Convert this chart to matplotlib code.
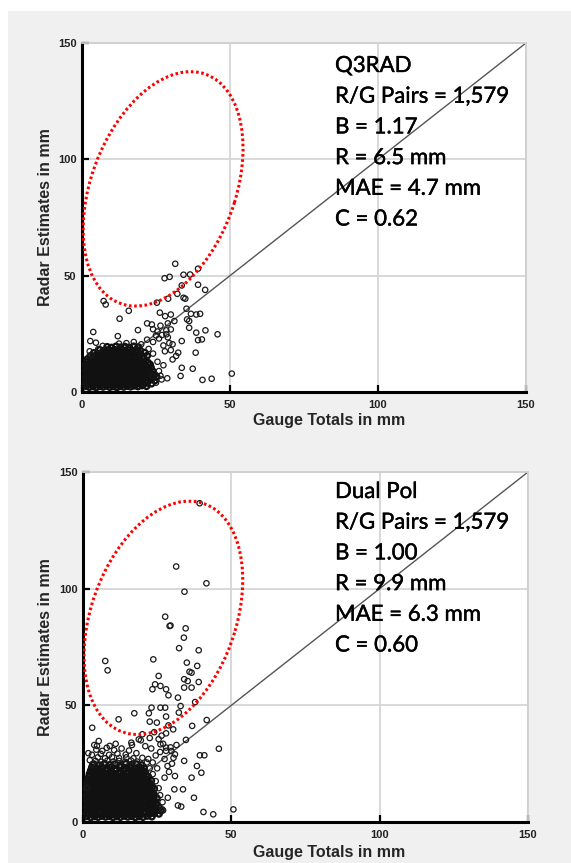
import numpy as np
import matplotlib
matplotlib.use("Agg")
import matplotlib.pyplot as plt
import matplotlib.patheffects as pe
from matplotlib.patches import Ellipse, Rectangle

# ---------------------------------------------------------------
# data (gauge mm, radar mm)
# dense cluster near the origin
q3rad_core = [
    (1.4,2.6),(2.5,2.1),(3.7,2.4),(4.8,2.0),(6.0,2.5),(7.1,2.2),(8.3,2.6),(9.4,2.1),(10.6,2.4),(11.8,2.0),
    (12.9,2.5),(14.1,2.2),(15.3,2.6),(16.4,2.3),(17.6,2.7),(18.9,2.4),(20.3,2.8),(21.8,2.5),
    (1.2,3.8),(2.0,3.3),(3.1,3.7),(4.2,3.4),(5.4,3.9),(6.5,3.5),(7.7,3.8),(8.8,3.3),(10.0,3.7),(11.2,3.4),
    (12.3,3.9),(13.5,3.5),(14.7,3.8),(15.8,3.4),(17.0,3.7),(18.2,3.3),(19.4,3.8),(20.6,3.5),(22.0,3.9),(23.5,3.6),
    (1.5,5.1),(2.7,4.7),(3.8,5.0),(5.0,4.6),(6.1,5.2),(7.3,4.8),(8.4,5.1),(9.6,4.7),(10.8,5.0),(11.9,4.6),
    (13.1,5.2),(14.3,4.8),(15.4,5.1),(16.6,4.7),(17.8,5.0),(19.0,4.6),(20.2,5.1),(21.5,4.8),(23.0,5.2),(24.6,4.9),
    (1.2,6.4),(2.1,6.0),(3.3,6.3),(4.4,5.9),(5.6,6.5),(6.8,6.1),(7.9,6.4),(9.1,6.0),(10.2,6.3),(11.4,5.9),
    (12.6,6.4),(13.7,6.0),(14.9,6.3),(16.1,5.9),(17.2,6.5),(18.4,6.1),(19.6,6.4),(20.9,6.0),(22.3,6.3),(23.8,6.0),(25.2,6.6),
    (1.6,7.7),(2.8,7.3),(3.9,7.6),(5.1,7.2),(6.2,7.8),(7.4,7.4),(8.6,7.7),(9.7,7.3),(10.9,7.6),(12.1,7.2),
    (13.2,7.8),(14.4,7.4),(15.6,7.7),(16.7,7.3),(17.9,7.6),(19.1,7.2),(20.3,7.7),(21.6,7.4),(23.0,7.8),(24.4,7.5),
    (1.2,9.0),(2.2,8.6),(3.4,8.9),(4.5,8.5),(5.7,9.1),(6.9,8.7),(8.0,9.0),(9.2,8.6),(10.4,8.9),(11.5,8.5),
    (12.7,9.1),(13.9,8.7),(15.0,9.0),(16.2,8.6),(17.4,8.9),(18.6,8.5),(19.8,9.0),(21.1,8.7),(22.5,9.1),(24.0,8.8),
    (1.5,10.3),(2.7,9.9),(3.9,10.2),(5.0,9.8),(6.2,10.4),(7.4,10.0),(8.5,10.3),(9.7,9.9),(10.9,10.2),(12.0,9.8),
    (13.2,10.4),(14.4,10.0),(15.5,10.3),(16.7,9.9),(17.9,10.2),(19.1,9.8),(20.4,10.3),(21.8,10.0),(23.3,10.5),
    (1.3,11.6),(2.3,11.2),(3.4,11.5),(4.6,11.1),(5.8,11.7),(6.9,11.3),(8.1,11.6),(9.3,11.2),(10.4,11.5),(11.6,11.1),
    (12.8,11.7),(13.9,11.3),(15.1,11.6),(16.3,11.2),(17.5,11.5),(18.7,11.1),(20.0,11.6),(21.4,11.3),(23.0,11.8),
    (1.6,12.9),(2.8,12.5),(4.0,12.8),(5.1,12.4),(6.3,13.0),(7.5,12.6),(8.6,12.9),(9.8,12.5),(11.0,12.8),(12.1,12.4),
    (13.3,13.0),(14.5,12.6),(15.7,12.9),(16.9,12.5),(18.1,12.8),(19.4,12.4),(20.8,12.9),(22.3,12.6),
    (1.8,14.1),(2.9,13.8),(4.1,14.1),(5.3,13.7),(6.4,14.3),(7.6,13.9),(8.8,14.2),(9.9,13.8),(11.1,14.1),(12.3,13.7),
    (13.5,14.3),(14.6,13.9),(15.8,14.2),(17.0,13.8),(18.2,14.1),(19.5,13.7),(21.0,14.2),
    (2.8,15.5),(3.8,15.1),(5.0,15.4),(6.2,15.0),(7.3,15.6),(8.5,15.2),(9.7,15.5),(10.8,15.1),(12.0,15.4),(13.2,15.0),
    (14.4,15.6),(15.6,15.2),(16.8,15.5),(18.0,15.1),(19.3,15.4),(20.7,15.0),(22.0,15.6),
    (4.0,16.8),(5.2,16.4),(6.4,16.7),(7.6,16.3),(8.7,16.9),(9.9,16.5),(11.1,16.8),(12.3,16.4),(13.5,16.9),(14.7,16.5),
    (15.9,16.8),(17.1,16.4),(18.4,16.7),(19.8,16.3),(21.2,16.9),
    (6.0,18.1),(7.3,17.7),(8.5,18.0),(9.7,17.6),(10.9,18.2),(12.1,17.8),(13.3,18.1),(14.5,17.7),(15.8,18.0),(17.0,17.6),
    (18.3,18.1),(19.7,17.8),
    (8.5,19.4),(10.0,19.1),(11.5,19.6),(13.0,19.2),(14.5,19.5),(16.0,19.1),(17.5,19.6),(19.0,19.3),
]
# scattered points and outliers
q3rad_spread = [
    (3.2,16.0),(2.6,17.5),(5.5,18.5),(7.0,19.8),(12.5,20.8),(15.0,21.0),(17.5,21.5),(20.0,20.5),(22.5,18.5),(24.0,16.5),
    (25.5,13.0),(26.0,9.0),(25.0,4.0),(26.5,7.0),(27.5,11.5),(24.0,21.5),(22.0,22.5),(26.0,23.0),(27.5,20.0),(29.0,23.5),
    (28.5,26.5),(27.0,24.5),(25.5,26.0),(29.5,21.0),(28.0,17.5),(30.0,18.0),(26.5,28.5),(29.0,29.5),(24.0,27.0),
    (31.5,55.1),(27.9,48.9),(29.6,49.5),(34.3,50.4),(36.5,50.5),(39.2,53.0),(39.2,46.1),(41.6,43.9),(33.7,45.8),
    (32.2,42.2),(34.3,40.5),(34.9,40.1),(7.3,39.1),(8.0,37.6),(15.8,34.9),(12.7,31.5),(25.3,38.4),(29.1,40.1),
    (35.3,35.8),(36.8,33.6),(38.6,33.3),(39.9,33.6),(35.5,31.2),(36.2,30.5),(36.2,27.6),(38.6,25.5),(41.7,26.5),
    (45.8,24.8),(39.2,22.3),(40.5,22.6),(38.4,16.9),(37.4,10.0),(40.7,5.2),(43.8,5.7),(50.6,7.9),(33.3,6.9),
    (33.7,10.4),(28.8,5.9),(32.5,16.9),(30.6,20.5),(33.7,21.9),(30.6,14.0),(31.8,15.5),(26.9,5.4),(23.8,6.9),
    (3.8,25.8),(2.8,21.9),(4.7,21.2),(26.3,34.1),(28.1,32.6),(30.0,33.3),(31.2,30.5),(30.0,26.9),(28.5,24.8),
    (23.6,29.0),(22.0,29.5),(18.9,26.6),(25.0,24.3),(12.1,24.0),
]

dualpol_core = [
    (1.4,2.5),(2.6,2.0),(3.9,2.4),(5.1,2.1),(6.4,2.6),(7.6,2.2),(8.9,2.5),(10.1,2.0),(11.4,2.4),(12.6,2.1),
    (13.9,2.6),(15.1,2.2),(16.4,2.5),(17.6,2.0),(18.9,2.4),(20.2,2.1),(21.6,2.6),(23.2,2.3),
    (1.2,3.7),(2.0,3.3),(3.2,3.6),(4.5,3.2),(5.7,3.8),(7.0,3.4),(8.2,3.7),(9.5,3.3),(10.7,3.6),(12.0,3.2),
    (13.2,3.8),(14.5,3.4),(15.7,3.7),(17.0,3.3),(18.2,3.6),(19.5,3.2),(20.9,3.8),(22.4,3.4),(24.0,3.7),(25.6,3.5),
    (1.6,5.0),(2.8,4.6),(4.1,4.9),(5.3,4.5),(6.6,5.1),(7.8,4.7),(9.1,5.0),(10.3,4.6),(11.6,4.9),(12.8,4.5),
    (14.1,5.1),(15.3,4.7),(16.6,5.0),(17.8,4.6),(19.1,4.9),(20.4,4.5),(21.8,5.1),(23.3,4.7),(24.8,5.0),(26.2,4.8),
    (1.2,6.3),(2.2,5.9),(3.4,6.2),(4.7,5.8),(5.9,6.4),(7.2,6.0),(8.4,6.3),(9.7,5.9),(10.9,6.2),(12.2,5.8),
    (13.4,6.4),(14.7,6.0),(15.9,6.3),(17.2,5.9),(18.4,6.2),(19.7,5.8),(21.1,6.4),(22.6,6.0),(24.1,6.3),(25.7,6.1),
    (1.6,7.6),(2.8,7.2),(4.1,7.5),(5.3,7.1),(6.6,7.7),(7.8,7.3),(9.1,7.6),(10.3,7.2),(11.6,7.5),(12.8,7.1),
    (14.1,7.7),(15.3,7.3),(16.6,7.6),(17.8,7.2),(19.1,7.5),(20.4,7.1),(21.8,7.7),(23.3,7.3),(24.8,7.6),
    (1.2,8.9),(2.2,8.5),(3.4,8.8),(4.7,8.4),(5.9,9.0),(7.2,8.6),(8.4,8.9),(9.7,8.5),(10.9,8.8),(12.2,8.4),
    (13.4,9.0),(14.7,8.6),(15.9,8.9),(17.2,8.5),(18.4,8.8),(19.7,8.4),(21.1,9.0),(22.6,8.6),(24.2,8.9),
    (1.6,10.2),(2.8,9.8),(4.1,10.1),(5.3,9.7),(6.6,10.3),(7.8,9.9),(9.1,10.2),(10.3,9.8),(11.6,10.1),(12.8,9.7),
    (14.1,10.3),(15.3,9.9),(16.6,10.2),(17.8,9.8),(19.1,10.1),(20.4,9.7),(21.8,10.3),(23.3,9.9),(24.9,10.2),
    (1.2,11.5),(2.2,11.1),(3.4,11.4),(4.7,11.0),(5.9,11.6),(7.2,11.2),(8.4,11.5),(9.7,11.1),(10.9,11.4),(12.2,11.0),
    (13.4,11.6),(14.7,11.2),(15.9,11.5),(17.2,11.1),(18.4,11.4),(19.7,11.0),(21.1,11.6),(22.6,11.2),(24.1,11.5),
    (1.6,12.8),(2.8,12.4),(4.1,12.7),(5.3,12.3),(6.6,12.9),(7.8,12.5),(9.1,12.8),(10.3,12.4),(11.6,12.7),(12.8,12.3),
    (14.1,12.9),(15.3,12.5),(16.6,12.8),(17.8,12.4),(19.1,12.7),(20.4,12.3),(21.8,12.9),(23.4,12.5),
    (1.2,14.1),(2.2,13.7),(3.4,14.0),(4.7,13.6),(5.9,14.2),(7.2,13.8),(8.4,14.1),(9.7,13.7),(10.9,14.0),(12.2,13.6),
    (13.4,14.2),(14.7,13.8),(15.9,14.1),(17.2,13.7),(18.4,14.0),(19.7,13.6),(21.1,14.2),(22.7,13.8),(24.0,14.3),
    (1.5,15.4),(2.8,15.0),(4.1,15.3),(5.3,14.9),(6.6,15.5),(7.8,15.1),(9.1,15.4),(10.3,15.0),(11.6,15.3),(12.8,14.9),
    (14.1,15.5),(15.3,15.1),(16.6,15.4),(17.8,15.0),(19.1,15.3),(20.4,14.9),(21.8,15.5),(23.3,15.1),
    (1.3,16.7),(2.2,16.3),(3.4,16.6),(4.7,16.2),(5.9,16.8),(7.2,16.4),(8.4,16.7),(9.7,16.3),(10.9,16.6),(12.2,16.2),
    (13.4,16.8),(14.7,16.4),(15.9,16.7),(17.2,16.3),(18.4,16.6),(19.7,16.2),(21.1,16.8),(22.6,16.4),
    (1.6,18.0),(2.8,17.6),(4.1,17.9),(5.3,17.5),(6.6,18.1),(7.8,17.7),(9.1,18.0),(10.3,17.6),(11.6,17.9),(12.8,17.5),
    (14.1,18.1),(15.3,17.7),(16.6,18.0),(17.8,17.6),(19.1,17.9),(20.4,17.5),(21.8,18.1),(23.0,17.7),
    (2.0,19.3),(3.2,18.9),(4.4,19.2),(5.7,18.8),(6.9,19.4),(8.2,19.0),(9.4,19.3),(10.7,18.9),(11.9,19.2),(13.2,18.8),
    (14.4,19.4),(15.7,19.0),(16.9,19.3),(18.2,18.9),(19.4,19.2),(20.7,18.8),(22.0,19.4),
    (2.2,20.6),(3.6,20.2),(4.9,20.5),(6.1,20.1),(7.4,20.7),(8.6,20.3),(9.9,20.6),(11.1,20.2),(12.4,20.5),(13.6,20.1),
    (14.9,20.7),(16.1,20.3),(17.4,20.6),(18.6,20.2),(19.9,20.5),(21.3,20.1),
    (2.6,22.0),(4.0,21.6),(5.4,21.9),(6.8,21.5),(8.2,22.1),(9.6,21.7),(11.0,22.0),(12.4,21.6),(13.8,21.9),(15.2,21.5),
    (16.6,22.1),(18.0,21.7),(19.4,22.0),(20.8,21.6),
    (3.0,23.4),(4.6,23.0),(6.2,23.5),(7.8,23.1),(9.4,23.4),(11.0,23.0),(12.6,23.5),(14.2,23.1),(15.8,23.4),(17.4,23.0),
    (19.0,23.5),(20.6,23.1),
    (3.6,24.8),(5.4,24.4),(7.2,24.9),(9.0,24.5),(10.8,24.8),(12.6,24.4),(14.4,24.9),(16.2,24.5),(18.0,24.8),(19.8,24.4),
]
dualpol_spread = [
    (4.2,26.2),(6.2,25.8),(8.2,26.3),(10.2,25.9),(12.2,26.2),(14.2,25.8),(16.2,26.3),(18.2,25.9),
    (5.0,27.7),(7.4,27.3),(9.8,27.8),(12.2,27.4),(14.6,27.7),(17.0,27.3),
    (6.0,29.2),(8.8,28.8),(11.6,29.3),(14.4,28.9),
    (2.3,26.5),(3.0,28.8),(4.5,31.0),(6.5,30.5),(8.0,31.8),(10.5,30.8),(13.0,31.5),(15.5,30.6),(18.0,29.5),(20.0,27.5),
    (21.5,25.5),(22.5,23.0),(23.5,20.5),(24.5,17.5),(25.5,14.5),(26.0,11.5),(26.8,8.5),(27.0,5.0),(1.8,29.5),(3.8,33.0),
    (11.0,33.5),(16.5,33.0),(22.0,27.0),(23.5,25.5),(25.0,23.0),(24.5,28.5),(26.0,30.0),(27.5,27.0),(28.0,30.5),
    (29.5,32.0),(27.0,33.5),(25.5,35.5),(23.0,31.5),(21.0,32.5),(19.5,35.0),(28.5,24.0),(30.5,27.5),(29.0,21.5),
    (27.5,19.0),(30.0,25.0),(26.5,37.0),(28.0,38.0),(31.5,33.0),(24.0,38.5),(22.5,36.0),
    (39.3,136.6),(31.4,109.5),(41.6,102.3),(34.2,98.7),(27.7,88.0),(29.2,84.0),(29.5,84.2),(34.6,83.0),(34.0,79.0),
    (32.4,74.5),(39.0,73.6),(23.7,69.7),(7.5,69.0),(8.3,65.0),(35.0,68.3),(38.5,66.9),(35.9,64.4),(36.6,64.0),
    (25.5,62.6),(34.1,61.2),(35.3,60.4),(39.0,60.0),(24.3,59.0),(26.1,58.3),(23.4,56.9),(28.0,56.9),(28.8,54.3),
    (34.1,57.6),(36.6,57.6),(32.0,53.3),(37.8,51.4),(26.1,49.0),(27.7,49.0),(23.1,49.0),(32.9,49.7),(32.3,46.9),
    (22.2,46.6),(17.3,46.6),(12.0,44.0),(3.1,40.4),(28.0,45.2),(28.8,41.4),(30.4,39.7),(24.9,42.6),(22.5,43.0),
    (36.8,41.2),(41.7,43.7),(34.7,35.2),(45.8,31.4),(39.4,28.6),(40.9,28.6),(38.4,24.0),(39.9,21.1),(31.0,19.7),
    (30.8,14.0),(33.7,14.0),(37.4,10.4),(28.6,10.4),(32.0,7.1),(33.1,6.6),(40.6,4.3),(43.9,3.3),(50.7,5.4),
    (26.7,5.4),(36.6,19.0),(34.1,26.2),(29.8,30.4),(31.0,29.0),(26.1,33.3),(28.0,31.9),(20.0,37.6),(18.8,35.4),
    (5.3,34.7),(4.7,32.6),(9.0,32.6),(16.3,34.0),(3.1,24.7),(1.3,14.7),
]

q3rad_stats = ["Q3RAD", "R/G Pairs = 1,579", "B = 1.17", "R = 6.5 mm", "MAE = 4.7 mm", "C = 0.62"]
dualpol_stats = ["Dual Pol", "R/G Pairs = 1,579", "B = 1.00", "R = 9.9 mm", "MAE = 6.3 mm", "C = 0.60"]

# highlighted region: centre x, centre y, full width, full height, angle (data units)
q3rad_ring = (27.4, 87.3, 103.0, 49.6, 76.3)
dualpol_ring = (27.1, 87.5, 102.0, 49.6, 77.0)

ticks = [0, 50, 100, 150]

W, H = 571, 863
fig = plt.figure(figsize=(W / 100, H / 100), dpi=100, facecolor="white")
fig.patches.append(Rectangle((8 / W, 0), 1 - 8 / W, 1 - 11 / H, transform=fig.transFigure,
                             facecolor="#f0f0f0", edgecolor="none", zorder=-10))


def fx(px):
    return px / W


def fy(py):
    return 1 - py / H


def panel(box, core, spread, ring, stats, text_top, xlab_y):
    left, top, right, bottom = box
    ax = fig.add_axes([fx(left), fy(bottom), fx(right - left), (bottom - top) / H])
    ax.set_facecolor("white")
    ax.set_xlim(0, 150)
    ax.set_ylim(0, 150)
    ax.set_xticks(ticks)
    ax.set_yticks(ticks)
    ax.grid(True, color="#d6d6d6", linewidth=1.3)
    ax.set_axisbelow(True)
    for s in ["left", "bottom"]:
        ax.spines[s].set_color("black")
        ax.spines[s].set_linewidth(2.2)
    for s in ["top", "right"]:
        ax.spines[s].set_color("#cfcfcf")
        ax.spines[s].set_linewidth(1.3)
    ax.tick_params(direction="in", length=5, width=1.6, color="black",
                   labelsize=8, labelcolor="#222222")
    ax.tick_params(axis="x", pad=6)
    ax.tick_params(axis="y", pad=4)
    for lab in ax.get_xticklabels() + ax.get_yticklabels():
        lab.set_fontweight("bold")
        lab.set_family("Liberation Sans")

    # 1:1 line
    ax.plot([0, 150], [0, 150], color="#555555", linewidth=1.0, zorder=2)

    # the dense cluster overlaps so heavily that it prints as solid black
    c = np.array(core)
    ax.scatter(c[:, 0], c[:, 1], s=16, facecolors="none", edgecolors="#111111",
               linewidths=1.7, zorder=3, clip_on=False)
    p = np.array(spread)
    ax.scatter(p[:, 0], p[:, 1], s=15, facecolors="none", edgecolors="#1a1a1a",
               linewidths=0.9, zorder=3, clip_on=False)

    cx, cy, w, h, ang = ring
    ax.add_patch(Ellipse((cx, cy), w, h, angle=ang, fill=False, edgecolor="#ff0000",
                         linewidth=2.2, linestyle=(0, (0.85, 0.85)), zorder=4))

    lab_kw = dict(fontsize=11.5, fontweight="bold", family="Liberation Sans", color="#262626")
    ax.set_xlabel("Gauge Totals in mm", **lab_kw)
    ax.set_ylabel("Radar Estimates in mm", **lab_kw)
    ax.xaxis.set_label_coords((329 - left) / (right - left), (bottom - xlab_y) / (bottom - top))
    ax.yaxis.set_label_coords((46 - left) / (right - left), 0.5)
    ax.xaxis.label.set_va("center")
    ax.yaxis.label.set_va("center")

    for i, line in enumerate(stats):
        fig.text(fx(335), fy(text_top + i * 30.7), line, fontsize=16, family="Lato",
                 color="black", va="center", ha="left", zorder=10,
                 path_effects=[pe.withStroke(linewidth=0.3, foreground="black")])
    return ax


panel((82, 43, 526, 392), q3rad_core, q3rad_spread, q3rad_ring, q3rad_stats, 66, 421)
panel((83, 472, 528, 822), dualpol_core, dualpol_spread, dualpol_ring, dualpol_stats, 492, 852)

fig.savefig("out.png", dpi=100, facecolor=fig.get_facecolor())
